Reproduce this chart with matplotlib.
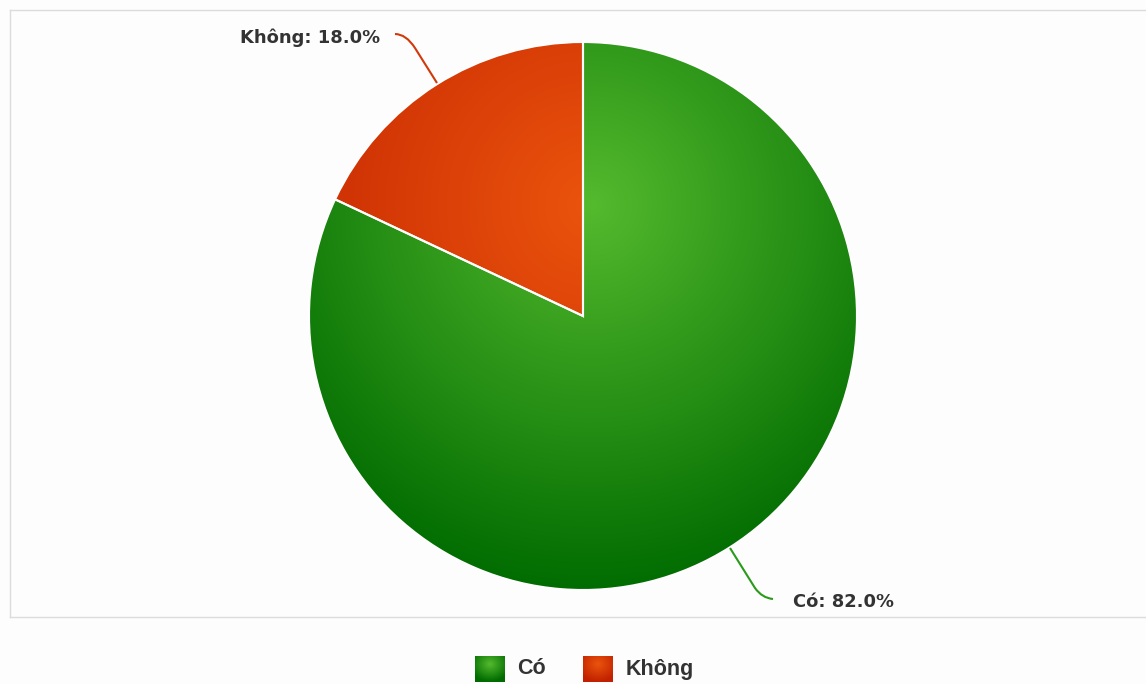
import numpy as np
import matplotlib
matplotlib.use("Agg")
import matplotlib.pyplot as plt
from matplotlib.patches import Rectangle
from matplotlib.path import Path
from matplotlib.patches import PathPatch

# data
labels = ["Có", "Không"]
values = [82.0, 18.0]
light = [(0.33, 0.73, 0.18), (0.92, 0.33, 0.05)]
dark = [(0.0, 0.42, 0.0), (0.76, 0.13, 0.0)]
line_colors = ["#2a9a1a", "#d03a0a"]

W, H = 1146, 684
fig = plt.figure(figsize=(W / 100, H / 100), dpi=100, facecolor="#fdfdfd")
ax = fig.add_axes([0, 0, 1, 1])
ax.axis("off")

cx, cy, R = 583, H - 316, 274

# plot frame
frame_c = "#dcdcdc"
ax.plot([10, 10], [H - 10, H - 617], color=frame_c, lw=1)
ax.plot([10, W], [H - 10, H - 10], color=frame_c, lw=1)
ax.plot([10, W], [H - 617, H - 617], color=frame_c, lw=1)

wedges, _ = ax.pie(values, startangle=90, counterclock=False, center=(cx, cy),
                   radius=R, colors=[c for c in light],
                   wedgeprops=dict(edgecolor="white", linewidth=1.5))
ax.set_xlim(0, W)
ax.set_ylim(0, H)
ax.set_aspect("equal")

# radial gradient fill
gx, gy, gr = 592, H - 205, 390
xs = np.arange(cx - R - 2, cx + R + 2)
ys = np.arange(cy - R - 2, cy + R + 2)
X, Y = np.meshgrid(xs, ys)
T = np.clip(np.hypot(X - gx, Y - gy) / gr, 0, 1)[..., None]
for w, c0, c1 in zip(wedges, light, dark):
    img = np.array(c0) * (1 - T) + np.array(c1) * T
    im = ax.imshow(img, extent=(xs[0], xs[-1], ys[0], ys[-1]), origin="lower",
                   zorder=w.get_zorder() + 0.1, interpolation="bilinear")
    im.set_clip_path(w)
    w.set_facecolor("none")
    w.set_zorder(w.get_zorder() + 0.2)

# connectors and data labels
lbl_font = dict(fontsize=12.9, fontweight="bold", color="#333333",
                family=["DejaVu Sans"])
verts = [(437, H - 83), (415, H - 48), (406, H - 34), (395, H - 34)]
ax.add_patch(PathPatch(Path(verts, [Path.MOVETO, Path.LINETO, Path.CURVE3, Path.CURVE3]),
                       fc="none", ec=line_colors[1], lw=1.5, zorder=5))
ax.text(380, H - 38, f"{labels[1]}: {values[1]:.1f}%", ha="right", va="center", **lbl_font)
verts = [(730, H - 548), (755, H - 588), (762, H - 598), (773, H - 599)]
ax.add_patch(PathPatch(Path(verts, [Path.MOVETO, Path.LINETO, Path.CURVE3, Path.CURVE3]),
                       fc="none", ec=line_colors[0], lw=1.5, zorder=5))
ax.text(793, H - 602, f"{labels[0]}: {values[0]:.1f}%", ha="left", va="center", **lbl_font)

# legend
leg_font = dict(fontsize=15.5, fontweight="bold", color="#333333",
                family=["Liberation Sans", "DejaVu Sans"])
for (x0, tx), lab, c0, c1 in zip([(475, 517), (583, 626)], labels, light, dark):
    rect = Rectangle((x0, H - 682), 30, 26, fc="none", ec="none", zorder=5)
    ax.add_patch(rect)
    lx = np.linspace(-1, 1, 30)
    LX, LY = np.meshgrid(lx, lx)
    t = np.clip(np.hypot(LX, LY + 0.4) / 1.4, 0, 1)[..., None]
    img = np.array(c0) * (1 - t) + np.array(c1) * t
    im = ax.imshow(img, extent=(x0, x0 + 30, H - 682, H - 656), origin="upper", zorder=5)
    im.set_clip_path(rect)
    ax.text(tx, H - 669, lab, ha="left", va="center", **leg_font)

fig.savefig("out.png", dpi=100, facecolor=fig.get_facecolor())
